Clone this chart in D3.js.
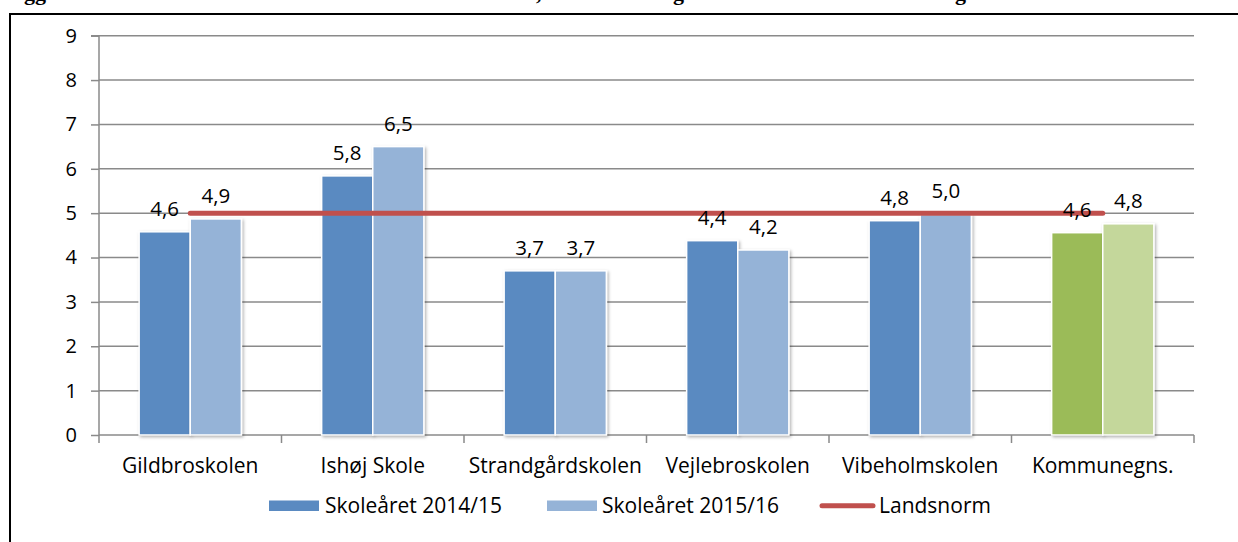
<!DOCTYPE html>
<html>
<head>
<meta charset="utf-8">
<script src="https://cdn.jsdelivr.net/npm/d3@7"></script>
<style>
	body { margin: 0; background: #fff; }
	svg text { font-family: "Open Sans", sans-serif; fill: #000; }
</style>
</head>
<body>
<div id="chart"></div>
<script>

	var schools = ['Gildbroskolen', 'Ishøj Skole', 'Strandgårdskolen', 'Vejlebroskolen', 'Vibeholmskolen', 'Kommunegns.'];
	var year1415 = [4.58, 5.84, 3.70, 4.38, 4.83, 4.56];
	var year1516 = [4.87, 6.50, 3.70, 4.17, 4.97, 4.76];
	var landsnorm = [5, 5, 5, 5, 5, 5];
	var seriesNames = ['Skoleåret 2014/15', 'Skoleåret 2015/16', 'Landsnorm'];
	var yTicks = [0, 1, 2, 3, 4, 5, 6, 7, 8, 9];

	var width = 1238;
	var height = 542;

	var blue1 = '#5a8ac1', blue2 = '#95b3d7';
	var green1 = '#9bbb59', green2 = '#c4d79b';
	var red = '#c0504d';

	var svg = d3.select('#chart')
			.append('svg')
			.attr('width', width)
			.attr('height', height);

	// soft shadow like the excel bars
	var defs = svg.append('defs');
	defs.append('filter')
		.attr('id', 'shadow')
		.attr('x', '-10%').attr('y', '-10%')
		.attr('width', '130%').attr('height', '130%')
		.append('feDropShadow')
		.attr('dx', 1.5).attr('dy', 1.5)
		.attr('stdDeviation', 1.5)
		.attr('flood-color', '#000')
		.attr('flood-opacity', 0.3);

	// clipped title from the page above
	var titleBits = [['gg', 24], [',', 536], ['g', 673], ['g', 955]];
	svg.selectAll('.titlebit')
		.data(titleBits)
		.enter()
		.append('text')
		.attr('class', 'titlebit')
		.attr('x', d => d[1])
		.attr('y', 0)
		.style('font-family', '"Liberation Serif", serif')
		.style('font-weight', 'bold')
		.style('font-size', '22px')
		.text(d => d[0]);

	// frame
	svg.append('rect')
		.attr('x', 10).attr('y', 14)
		.attr('width', width + 20).attr('height', height + 20)
		.attr('fill', 'none')
		.attr('stroke', '#000')
		.attr('stroke-width', 2);

	var x = d3.scaleBand()
		.domain(schools)
		.range([99, 1194])
		.paddingInner(0.44)
		.paddingOuter(0.22);

	var x2 = d3.scaleBand()
		.domain([0, 1])
		.range([0, x.bandwidth()]);

	var y = d3.scaleLinear().domain([0, 9]).range([435, 35.7]);

	var step = x.step();
	var center = d => x(d) + x.bandwidth() / 2;

	// gridlines
	svg.append('g')
		.selectAll('line')
		.data(yTicks.slice(1))
		.enter()
		.append('line')
		.attr('x1', 99).attr('x2', 1194)
		.attr('y1', d => y(d)).attr('y2', d => y(d))
		.attr('stroke', '#8a8a8a')
		.attr('stroke-width', 1.5);

	// y axis
	var yAxis = d3.axisLeft(y).tickValues(yTicks).tickSize(8).tickPadding(14).tickFormat(d3.format('d'));
	var yAxisGroup = svg.append('g')
		.attr('transform', 'translate(99,0)')
		.call(yAxis);
	yAxisGroup.select('.domain').attr('stroke', '#8a8a8a').attr('stroke-width', 1.5).attr('d', 'M-8,' + y(9) + 'H0V' + y(0));
	yAxisGroup.selectAll('.tick line').attr('stroke', '#8a8a8a').attr('stroke-width', 1.5);
	yAxisGroup.selectAll('.tick text').style('font-size', '20px').style('font-family', '"Open Sans", sans-serif').attr('fill', '#000');

	// x axis: ticks between categories
	var bounds = [99].concat(schools.map(d => center(d) + step / 2));
	svg.append('line')
		.attr('x1', 99).attr('x2', 1194)
		.attr('y1', y(0)).attr('y2', y(0))
		.attr('stroke', '#8a8a8a')
		.attr('stroke-width', 1.5);
	svg.append('g')
		.selectAll('line')
		.data(bounds)
		.enter()
		.append('line')
		.attr('x1', d => d).attr('x2', d => d)
		.attr('y1', y(0)).attr('y2', y(0) + 8)
		.attr('stroke', '#8a8a8a')
		.attr('stroke-width', 1.5);

	svg.append('g')
		.selectAll('text')
		.data(schools)
		.enter()
		.append('text')
		.attr('x', d => center(d))
		.attr('y', 473)
		.attr('text-anchor', 'middle')
		.style('font-size', '21px')
		.text(d => d);

	// bars
	var barData = [];
	schools.forEach(function(s, i) {
		var last = i === schools.length - 1;
		barData.push({ school: s, k: 0, v: year1415[i], color: last ? green1 : blue1 });
		barData.push({ school: s, k: 1, v: year1516[i], color: last ? green2 : blue2 });
	});

	svg.append('g')
		.selectAll('rect')
		.data(barData)
		.enter()
		.append('rect')
		.attr('x', d => x(d.school) + x2(d.k))
		.attr('y', d => y(d.v))
		.attr('width', x2.bandwidth())
		.attr('height', d => y(0) - y(d.v))
		.attr('fill', d => d.color)
		.attr('stroke', '#fff')
		.attr('stroke-width', 1.5)
		.attr('filter', 'url(#shadow)');

	// landsnorm line
	var line = d3.line()
		.x((d, i) => center(schools[i]))
		.y(d => y(d));

	svg.append('path')
		.datum(landsnorm)
		.attr('d', line)
		.attr('fill', 'none')
		.attr('stroke', red)
		.attr('stroke-width', 5)
		.attr('stroke-linecap', 'round');

	// value labels
	var fmt = d => d3.format('.1f')(d).replace('.', ',');
	svg.append('g')
		.selectAll('text')
		.data(barData)
		.enter()
		.append('text')
		.attr('x', d => x(d.school) + x2(d.k) + x2.bandwidth() / 2)
		.attr('y', d => y(d.v) - 16)
		.attr('text-anchor', 'middle')
		.style('font-size', '20.5px')
		.text(d => fmt(d.v));

	// legend
	var legend = svg.append('g');
	var legendX = [269, 547, 820];
	var legendTextX = [325, 602, 879];

	legend.selectAll('rect')
		.data([blue1, blue2])
		.enter()
		.append('rect')
		.attr('x', (d, i) => legendX[i])
		.attr('y', 500.5)
		.attr('width', 50)
		.attr('height', 10.5)
		.attr('fill', d => d);

	legend.append('line')
		.attr('x1', legendX[2] + 2).attr('x2', legendX[2] + 53)
		.attr('y1', 505.7).attr('y2', 505.7)
		.attr('stroke', red)
		.attr('stroke-width', 5)
		.attr('stroke-linecap', 'round');

	legend.selectAll('text')
		.data(seriesNames)
		.enter()
		.append('text')
		.attr('x', (d, i) => legendTextX[i])
		.attr('y', 513)
		.style('font-size', '21px')
		.text(d => d);

</script>
</body>
</html>
